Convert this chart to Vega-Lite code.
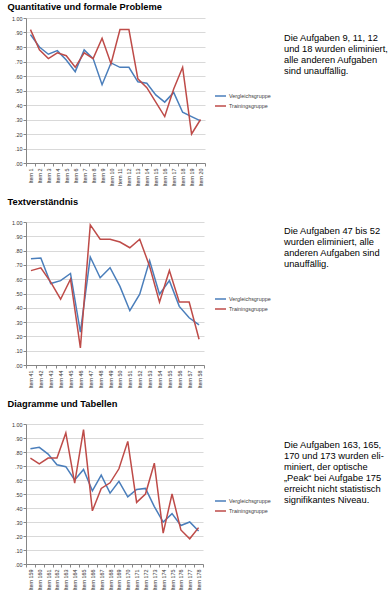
{
  "$schema": "https://vega.github.io/schema/vega-lite/v6.json",
  "background": "white",
  "padding": {"left": 7, "top": 2, "right": 0, "bottom": 0},
  "config": {
    "view": {"stroke": null},
    "font": "Liberation Sans",
    "axis": {"labelFont": "Liberation Sans", "labelFontSize": 5.4, "labelColor": "#333333", "domainColor": "#868686", "tickColor": "#868686", "gridColor": "#d9d9d9", "tickSize": 3},
    "legend": {"labelFont": "Liberation Sans", "labelFontSize": 5.4, "labelColor": "#404040"},
    "title": {"font": "Liberation Sans", "fontSize": 9.3, "fontWeight": "bold", "color": "#000000", "anchor": "start"}
  },
  "datasets": {
    "p1": [
      {"item": "Item 1", "Vergleichsgruppe": 0.885, "Trainingsgruppe": 0.92},
      {"item": "Item 2", "Vergleichsgruppe": 0.80, "Trainingsgruppe": 0.78},
      {"item": "Item 3", "Vergleichsgruppe": 0.75, "Trainingsgruppe": 0.72},
      {"item": "Item 4", "Vergleichsgruppe": 0.775, "Trainingsgruppe": 0.76},
      {"item": "Item 5", "Vergleichsgruppe": 0.71, "Trainingsgruppe": 0.74},
      {"item": "Item 6", "Vergleichsgruppe": 0.63, "Trainingsgruppe": 0.66},
      {"item": "Item 7", "Vergleichsgruppe": 0.78, "Trainingsgruppe": 0.76},
      {"item": "Item 8", "Vergleichsgruppe": 0.72, "Trainingsgruppe": 0.72},
      {"item": "Item 9", "Vergleichsgruppe": 0.54, "Trainingsgruppe": 0.86},
      {"item": "Item 10", "Vergleichsgruppe": 0.69, "Trainingsgruppe": 0.685},
      {"item": "Item 11", "Vergleichsgruppe": 0.66, "Trainingsgruppe": 0.92},
      {"item": "Item 12", "Vergleichsgruppe": 0.66, "Trainingsgruppe": 0.92},
      {"item": "Item 13", "Vergleichsgruppe": 0.56, "Trainingsgruppe": 0.58},
      {"item": "Item 14", "Vergleichsgruppe": 0.55, "Trainingsgruppe": 0.52},
      {"item": "Item 15", "Vergleichsgruppe": 0.47, "Trainingsgruppe": 0.42},
      {"item": "Item 16", "Vergleichsgruppe": 0.42, "Trainingsgruppe": 0.32},
      {"item": "Item 17", "Vergleichsgruppe": 0.487, "Trainingsgruppe": 0.51},
      {"item": "Item 18", "Vergleichsgruppe": 0.35, "Trainingsgruppe": 0.66},
      {"item": "Item 19", "Vergleichsgruppe": 0.32, "Trainingsgruppe": 0.20},
      {"item": "Item 20", "Vergleichsgruppe": 0.29, "Trainingsgruppe": 0.30}
    ],
    "p2": [
      {"item": "Item 41", "Vergleichsgruppe": 0.743, "Trainingsgruppe": 0.66},
      {"item": "Item 42", "Vergleichsgruppe": 0.748, "Trainingsgruppe": 0.68},
      {"item": "Item 43", "Vergleichsgruppe": 0.57, "Trainingsgruppe": 0.58},
      {"item": "Item 44", "Vergleichsgruppe": 0.59, "Trainingsgruppe": 0.46},
      {"item": "Item 45", "Vergleichsgruppe": 0.64, "Trainingsgruppe": 0.60},
      {"item": "Item 46", "Vergleichsgruppe": 0.23, "Trainingsgruppe": 0.12},
      {"item": "Item 47", "Vergleichsgruppe": 0.755, "Trainingsgruppe": 0.98},
      {"item": "Item 48", "Vergleichsgruppe": 0.61, "Trainingsgruppe": 0.88},
      {"item": "Item 49", "Vergleichsgruppe": 0.68, "Trainingsgruppe": 0.88},
      {"item": "Item 50", "Vergleichsgruppe": 0.55, "Trainingsgruppe": 0.86},
      {"item": "Item 51", "Vergleichsgruppe": 0.38, "Trainingsgruppe": 0.82},
      {"item": "Item 52", "Vergleichsgruppe": 0.495, "Trainingsgruppe": 0.88},
      {"item": "Item 53", "Vergleichsgruppe": 0.73, "Trainingsgruppe": 0.69},
      {"item": "Item 54", "Vergleichsgruppe": 0.495, "Trainingsgruppe": 0.44},
      {"item": "Item 55", "Vergleichsgruppe": 0.59, "Trainingsgruppe": 0.66},
      {"item": "Item 56", "Vergleichsgruppe": 0.41, "Trainingsgruppe": 0.44},
      {"item": "Item 57", "Vergleichsgruppe": 0.33, "Trainingsgruppe": 0.44},
      {"item": "Item 58", "Vergleichsgruppe": 0.28, "Trainingsgruppe": 0.18}
    ],
    "p3": [
      {"item": "Item 159", "Vergleichsgruppe": 0.823, "Trainingsgruppe": 0.757},
      {"item": "Item 160", "Vergleichsgruppe": 0.833, "Trainingsgruppe": 0.716},
      {"item": "Item 161", "Vergleichsgruppe": 0.785, "Trainingsgruppe": 0.757},
      {"item": "Item 162", "Vergleichsgruppe": 0.709, "Trainingsgruppe": 0.757},
      {"item": "Item 163", "Vergleichsgruppe": 0.695, "Trainingsgruppe": 0.936},
      {"item": "Item 164", "Vergleichsgruppe": 0.60, "Trainingsgruppe": 0.578},
      {"item": "Item 165", "Vergleichsgruppe": 0.675, "Trainingsgruppe": 0.96},
      {"item": "Item 166", "Vergleichsgruppe": 0.523, "Trainingsgruppe": 0.38},
      {"item": "Item 167", "Vergleichsgruppe": 0.635, "Trainingsgruppe": 0.54},
      {"item": "Item 168", "Vergleichsgruppe": 0.506, "Trainingsgruppe": 0.58},
      {"item": "Item 169", "Vergleichsgruppe": 0.59, "Trainingsgruppe": 0.68},
      {"item": "Item 170", "Vergleichsgruppe": 0.48, "Trainingsgruppe": 0.876},
      {"item": "Item 171", "Vergleichsgruppe": 0.532, "Trainingsgruppe": 0.44},
      {"item": "Item 172", "Vergleichsgruppe": 0.54, "Trainingsgruppe": 0.50},
      {"item": "Item 173", "Vergleichsgruppe": 0.41, "Trainingsgruppe": 0.72},
      {"item": "Item 174", "Vergleichsgruppe": 0.30, "Trainingsgruppe": 0.22},
      {"item": "Item 175", "Vergleichsgruppe": 0.36, "Trainingsgruppe": 0.50},
      {"item": "Item 176", "Vergleichsgruppe": 0.275, "Trainingsgruppe": 0.243},
      {"item": "Item 177", "Vergleichsgruppe": 0.30, "Trainingsgruppe": 0.18},
      {"item": "Item 178", "Vergleichsgruppe": 0.235, "Trainingsgruppe": 0.26}
    ]
  },
  "vconcat": [
    {
      "title": {"text": "Quantitative und formale Probleme", "offset": 4, "dx": -4},
      "hconcat": [
        {
          "width": 179, "height": 145,
          "data": {"name": "p1"},
          "transform": [{"fold": ["Vergleichsgruppe", "Trainingsgruppe"], "as": ["group", "value"]}],
          "mark": {"type": "line", "strokeWidth": 1.5},
          "encoding": {
            "x": {"field": "item", "type": "ordinal", "sort": null, "title": null, "scale": {"type": "band", "paddingInner": 0, "paddingOuter": 0}, "axis": {"labelAngle": -90, "tickBand": "extent", "labelPadding": 2}},
            "y": {"field": "value", "type": "quantitative", "title": null, "scale": {"domain": [0, 1], "nice": false}, "axis": {"values": [0, 0.1, 0.2, 0.3, 0.4, 0.5, 0.6, 0.7, 0.8, 0.9, 1], "labelExpr": "replace(format(datum.value, '.2f'), '0.', '.')", "labelPadding": 1}},
            "color": {"field": "group", "type": "nominal", "scale": {"domain": ["Vergleichsgruppe", "Trainingsgruppe"], "range": ["#4A7EBB", "#BE4B48"]}, "legend": {"title": null, "orient": "none", "legendX": 188, "legendY": 71.5, "symbolType": "stroke", "symbolSize": 121, "symbolStrokeWidth": 1.5, "labelOffset": 2, "rowPadding": 0}}
          }
        },
        {
          "width": 2, "height": 32.6,
          "data": {"values": [{"note": "Die Aufgaben 9, 11, 12\nund 18 wurden eliminiert,\nalle anderen Aufgaben\nsind unauffällig."}]},
          "mark": {"type": "text", "align": "left", "baseline": "top", "fontSize": 9.3, "lineHeight": 11, "lineBreak": "\n", "color": "#000000", "font": "Liberation Sans"},
          "encoding": {"text": {"field": "note"}}
        }
      ],
      "spacing": 12,
      "resolve": {"scale": {"color": "independent"}, "legend": {"color": "independent"}}
    },
    {
      "title": {"text": "Textverständnis", "offset": 13, "dx": -4},
      "hconcat": [
        {
          "width": 178, "height": 143,
          "data": {"name": "p2"},
          "transform": [{"fold": ["Vergleichsgruppe", "Trainingsgruppe"], "as": ["group", "value"]}],
          "mark": {"type": "line", "strokeWidth": 1.5},
          "encoding": {
            "x": {"field": "item", "type": "ordinal", "sort": null, "title": null, "scale": {"type": "band", "paddingInner": 0, "paddingOuter": 0}, "axis": {"labelAngle": -90, "tickBand": "extent", "labelPadding": 2}},
            "y": {"field": "value", "type": "quantitative", "title": null, "scale": {"domain": [0, 1], "nice": false}, "axis": {"values": [0, 0.1, 0.2, 0.3, 0.4, 0.5, 0.6, 0.7, 0.8, 0.9, 1], "labelExpr": "replace(format(datum.value, '.2f'), '0.', '.')", "labelPadding": 1}},
            "color": {"field": "group", "type": "nominal", "scale": {"domain": ["Vergleichsgruppe", "Trainingsgruppe"], "range": ["#4A7EBB", "#BE4B48"]}, "legend": {"title": null, "orient": "none", "legendX": 188, "legendY": 70.5, "symbolType": "stroke", "symbolSize": 121, "symbolStrokeWidth": 1.5, "labelOffset": 2, "rowPadding": 0}}
          }
        },
        {
          "width": 2, "height": 10.6,
          "data": {"values": [{"note": "Die Aufgaben 47 bis 52\nwurden eliminiert, alle\nanderen Aufgaben sind\nunauffällig."}]},
          "mark": {"type": "text", "align": "left", "baseline": "top", "fontSize": 9.3, "lineHeight": 11, "lineBreak": "\n", "color": "#000000", "font": "Liberation Sans"},
          "encoding": {"text": {"field": "note"}}
        }
      ],
      "spacing": 12,
      "resolve": {"scale": {"color": "independent"}, "legend": {"color": "independent"}}
    },
    {
      "title": {"text": "Diagramme und Tabellen", "offset": 13, "dx": -4},
      "hconcat": [
        {
          "width": 177, "height": 140,
          "data": {"name": "p3"},
          "transform": [{"fold": ["Vergleichsgruppe", "Trainingsgruppe"], "as": ["group", "value"]}],
          "mark": {"type": "line", "strokeWidth": 1.5},
          "encoding": {
            "x": {"field": "item", "type": "ordinal", "sort": null, "title": null, "scale": {"type": "band", "paddingInner": 0, "paddingOuter": 0}, "axis": {"labelAngle": -90, "tickBand": "extent", "labelPadding": 2}},
            "y": {"field": "value", "type": "quantitative", "title": null, "scale": {"domain": [0, 1], "nice": false}, "axis": {"values": [0, 0.1, 0.2, 0.3, 0.4, 0.5, 0.6, 0.7, 0.8, 0.9, 1], "labelExpr": "replace(format(datum.value, '.2f'), '0.', '.')", "labelPadding": 1}},
            "color": {"field": "group", "type": "nominal", "scale": {"domain": ["Vergleichsgruppe", "Trainingsgruppe"], "range": ["#4A7EBB", "#BE4B48"]}, "legend": {"title": null, "orient": "none", "legendX": 188, "legendY": 70.5, "symbolType": "stroke", "symbolSize": 121, "symbolStrokeWidth": 1.5, "labelOffset": 2, "rowPadding": 0}}
          }
        },
        {
          "width": 2, "height": 33.2,
          "data": {"values": [{"note": "Die Aufgaben 163, 165,\n170 und 173 wurden eli-\nminiert, der optische\n„Peak“ bei Aufgabe 175\nerreicht nicht statistisch\nsignifikantes Niveau."}]},
          "mark": {"type": "text", "align": "left", "baseline": "top", "fontSize": 9.3, "lineHeight": 11, "lineBreak": "\n", "color": "#000000", "font": "Liberation Sans"},
          "encoding": {"text": {"field": "note"}}
        }
      ],
      "spacing": 12,
      "resolve": {"scale": {"color": "independent"}, "legend": {"color": "independent"}}
    }
  ],
  "spacing": 11,
  "resolve": {"scale": {"color": "independent"}, "legend": {"color": "independent"}}
}
